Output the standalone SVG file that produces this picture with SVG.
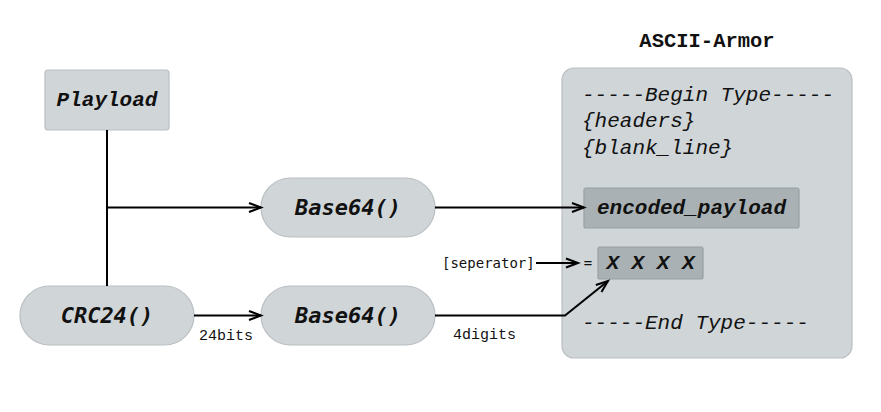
<svg xmlns="http://www.w3.org/2000/svg" width="881" height="412" viewBox="0 0 881 412">
<style>
.node{fill:#d0d5d8;stroke:#b9bfc2;stroke-width:1.2}
.dark{fill:#a9b1b4;stroke:#98a0a3;stroke-width:1.2}
.fn{font-family:"DejaVu Sans Mono",monospace;font-weight:bold;font-style:italic;font-size:22px;fill:#111}
.cm{font-family:"Liberation Mono",monospace;font-weight:bold;font-style:italic;font-size:21px;fill:#111}
.arm{font-family:"Liberation Mono",monospace;font-style:italic;font-size:21px;fill:#111}
.lbl{font-family:"Liberation Mono",monospace;font-size:15px;fill:#111}
.sep{font-family:"DejaVu Sans Mono",monospace;font-size:14px;fill:#111}
.edge{fill:none;stroke:#000;stroke-width:2}
</style>
<defs>
<marker id="ah" markerUnits="userSpaceOnUse" markerWidth="16" markerHeight="14" refX="13" refY="6" orient="auto">
<path d="M1,1.5 L13,6 L1,10.5" fill="none" stroke="#000" stroke-width="2"/>
</marker>
</defs>
<rect width="881" height="412" fill="#fff"/>
<g id="armor">
<text x="707" y="47" text-anchor="middle" font-family="Liberation Mono, monospace" font-weight="bold" font-size="20.5" fill="#111">ASCII-Armor</text>
<rect class="node" x="562" y="68" width="290" height="290" rx="12"/>
<text class="arm" x="582" y="101">-----Begin Type-----</text>
<text class="arm" x="582" y="127">{headers}</text>
<text class="arm" x="582" y="154">{blank_line}</text>
<text class="arm" x="582" y="329">-----End Type-----</text>
</g>
<g id="playload">
<rect class="node" x="45" y="70" width="124" height="60" rx="3"/>
<text class="cm" x="107" y="100" text-anchor="middle" dominant-baseline="central">Playload</text>
</g>
<g id="base64-top">
<rect class="node" x="261" y="178" width="174" height="59" rx="29.5"/>
<text class="fn" x="348" y="207.5" text-anchor="middle" dominant-baseline="central">Base64()</text>
</g>
<g id="crc24">
<rect class="node" x="20" y="286" width="174" height="59" rx="29.5"/>
<text class="fn" x="107" y="315.5" text-anchor="middle" dominant-baseline="central">CRC24()</text>
</g>
<g id="base64-bottom">
<rect class="node" x="261" y="286" width="174" height="59" rx="29.5"/>
<text class="fn" x="348" y="315.5" text-anchor="middle" dominant-baseline="central">Base64()</text>
</g>
<g id="encoded-payload">
<rect class="dark" x="584" y="188" width="215" height="40" rx="2"/>
<text class="cm" x="691.5" y="208" text-anchor="middle" dominant-baseline="central">encoded_payload</text>
</g>
<g id="checksum">
<rect class="dark" x="598" y="247" width="105" height="32" rx="2"/>
<text class="cm" x="650.5" y="263" text-anchor="middle" dominant-baseline="central">X X X X</text>
<text class="sep" x="588" y="263" text-anchor="middle" dominant-baseline="central">=</text>
</g>
<g id="separator">
<text class="sep" x="442" y="263" dominant-baseline="central">[seperator]</text>
</g>
<g id="connectors">
<path class="edge" d="M107,130 V286"/>
<path class="edge" d="M107,207.5 H261" marker-end="url(#ah)"/>
<path class="edge" d="M194,315.5 H261" marker-end="url(#ah)"/>
<path class="edge" d="M435,207.5 H584" marker-end="url(#ah)"/>
<path class="edge" d="M536,263 H578" marker-end="url(#ah)"/>
<path class="edge" d="M435,315.5 H565 L608,281" marker-end="url(#ah)"/>
<text class="lbl" x="199" y="340">24bits</text>
<text class="lbl" x="453" y="339">4digits</text>
</g>
</svg>
